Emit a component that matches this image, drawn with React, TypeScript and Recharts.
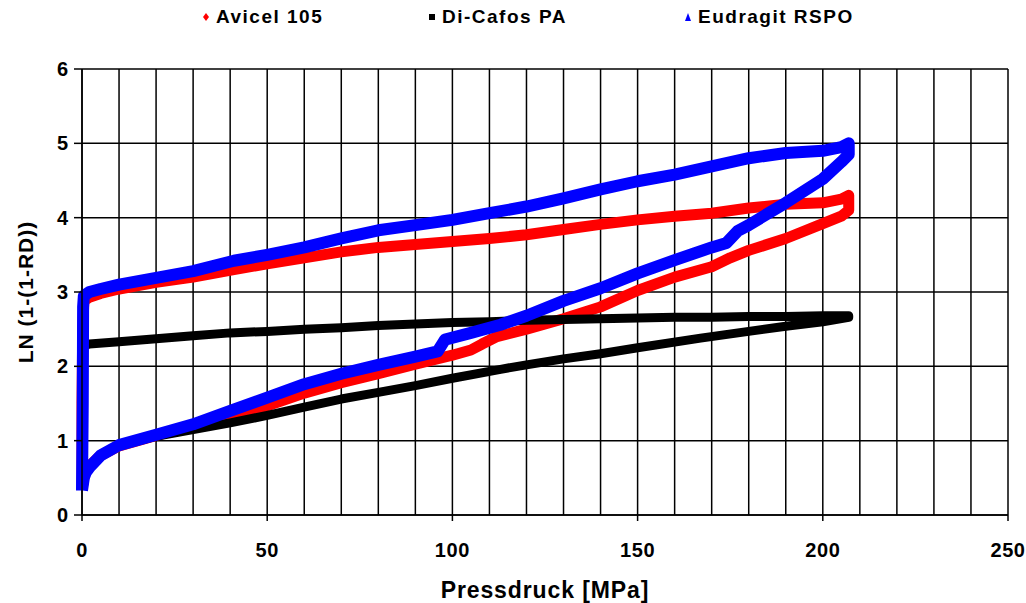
import { LineChart, Line, XAxis, YAxis, CartesianGrid, Label } from "recharts"

// Avicel 105 - compression branch then decompression branch (loop)
const avicelX = [0, 0.5, 1, 2, 5, 10, 20, 30, 40, 50, 60, 70, 80, 90, 100, 105, 108, 112, 120, 130, 140, 150, 160, 170, 175, 180, 190, 200, 205, 207,
  207, 205, 200, 190, 180, 170, 160, 150, 140, 130, 120, 110, 100, 90, 80, 70, 60, 50, 41, 30, 20, 10, 5, 2, 0.5, 0.2, 0, 0]
const avicelY = [0.35, 0.5, 0.58, 0.66, 0.8, 0.93, 1.07, 1.2, 1.33, 1.47, 1.64, 1.78, 1.9, 2.03, 2.15, 2.22, 2.3, 2.4, 2.5, 2.64, 2.8, 3.02, 3.2, 3.34, 3.46, 3.56, 3.72, 3.92, 4.02, 4.1,
  4.3, 4.25, 4.2, 4.18, 4.13, 4.06, 4.02, 3.97, 3.91, 3.84, 3.77, 3.72, 3.68, 3.64, 3.6, 3.54, 3.46, 3.38, 3.3, 3.2, 3.13, 3.04, 2.98, 2.93, 2.88, 2.5, 1.5, 0.35]

// Di-Cafos PA
const dicafosX = [0, 0.5, 1, 2, 5, 10, 20, 30, 40, 50, 60, 70, 80, 90, 100, 113, 120, 130, 140, 150, 167, 180, 190, 200, 207,
  207, 200, 190, 180, 170, 160, 150, 140, 130, 120, 110, 100, 90, 80, 70, 60, 50, 40, 30, 20, 10, 2, 0.5, 0.2, 0]
const dicafosY = [0.38, 0.5, 0.57, 0.64, 0.8, 0.93, 1.06, 1.15, 1.24, 1.34, 1.45, 1.56, 1.65, 1.74, 1.84, 1.96, 2.02, 2.1, 2.17, 2.25, 2.38, 2.47, 2.54, 2.6, 2.66,
  2.68, 2.68, 2.67, 2.67, 2.66, 2.66, 2.65, 2.64, 2.63, 2.62, 2.6, 2.59, 2.57, 2.55, 2.52, 2.5, 2.47, 2.45, 2.41, 2.37, 2.33, 2.3, 2.28, 1.5, 0.38]

// Eudragit RSPO
const eudragitX = [0, 0.5, 1, 2, 5, 10, 20, 30, 40, 50, 60, 70, 80, 90, 96, 98, 105, 113, 120, 130, 140, 150, 160, 170, 174, 177, 180, 190, 200, 205, 207,
  207, 205, 200, 190, 180, 170, 160, 150, 140, 130, 120, 110, 100, 90, 80, 70, 60, 50, 41, 30, 20, 10, 5, 2, 0.5, 0.3, 0.2, 0]
const eudragitY = [0.33, 0.5, 0.57, 0.64, 0.8, 0.94, 1.08, 1.22, 1.4, 1.58, 1.76, 1.9, 2.02, 2.13, 2.2, 2.36, 2.45, 2.56, 2.68, 2.88, 3.05, 3.25, 3.43, 3.6, 3.66, 3.82, 3.9, 4.2, 4.52, 4.75, 4.85,
  5.0, 4.95, 4.9, 4.87, 4.8, 4.69, 4.58, 4.49, 4.38, 4.26, 4.15, 4.06, 3.97, 3.9, 3.83, 3.72, 3.6, 3.5, 3.42, 3.28, 3.19, 3.1, 3.04, 3.0, 2.95, 2.8, 1.5, 0.33]

const xTicks = [0, 10, 20, 30, 40, 50, 60, 70, 80, 90, 100, 110, 120, 130, 140, 150, 160, 170, 180, 190, 200, 210, 220, 230, 240, 250]
const yTicks = [0, 1, 2, 3, 4, 5, 6]

const seriesNames = ["Avicel 105", "Di-Cafos PA", "Eudragit RSPO"]
const seriesColors = ["#ff0000", "#000000", "#0000ff"]

const toPoints = (xs: number[], ys: number[]) => xs.map((x, i) => ({ x, y: ys[i] }))

const avicel = toPoints(avicelX, avicelY)
const dicafos = toPoints(dicafosX, dicafosY)
const eudragit = toPoints(eudragitX, eudragitY)

const font = "'Liberation Sans', Arial, sans-serif"

const XTick = (props: any) => {
  const { x, y, payload } = props
  if (payload.value % 50 !== 0) return null
  return (
    <g>
      <line x1={x} y1={515} x2={x} y2={521} stroke="#000" strokeWidth={1.5} />
      <text x={x} y={y + 34} textAnchor="middle" fontFamily={font} fontWeight="bold" fontSize={20} letterSpacing={0.6} fill="#000">
        {payload.value}
      </text>
    </g>
  )
}

const YTick = (props: any) => {
  const { x, y, payload } = props
  return (
    <g>
      <line x1={x} y1={y} x2={x + 8} y2={y} stroke="#000" strokeWidth={1.5} />
      <text x={x - 6} y={y + 7} textAnchor="end" fontFamily={font} fontWeight="bold" fontSize={20} fill="#000">
        {payload.value}
      </text>
    </g>
  )
}

const ChartLegend = () => {
  const lefts = [200, 426, 682]
  return (
    <div style={{ position: "absolute", left: 0, top: 6, width: 1026, height: 26, fontFamily: font, fontWeight: "bold", fontSize: 19, letterSpacing: 1.5 }}>
      {seriesNames.map((name, i) => (
        <div key={name} style={{ position: "absolute", left: lefts[i], top: 0, display: "flex", alignItems: "center" }}>
          <svg width={12} height={12} style={{ marginRight: 4 }}>
            {i === 0 && <polygon points="6,2 9,6 6,10 3,6" fill={seriesColors[i]} />}
            {i === 1 && <rect x={3} y={3} width={6} height={6} fill={seriesColors[i]} />}
            {i === 2 && <polygon points="6,2 9,10 3,10" fill={seriesColors[i]} />}
          </svg>
          <span>{name}</span>
        </div>
      ))}
    </div>
  )
}

export default function App() {
  return (
    <div style={{ position: "absolute", left: 0, top: 0, width: 1026, height: 603, background: "#fff" }}>
      <LineChart width={1026} height={603} margin={{ top: 69, right: 18, bottom: 0, left: 0 }}>
        <CartesianGrid stroke="#000" strokeWidth={1.5} horizontalValues={yTicks} verticalValues={xTicks} />
        <XAxis
          type="number"
          dataKey="x"
          domain={[0, 250]}
          ticks={xTicks}
          interval={0}
          height={88}
          tick={<XTick />}
          tickLine={false}
          axisLine={{ stroke: "#000", strokeWidth: 1.5 }}
          allowDuplicatedCategory={false}
        >
          <Label
            value="Pressdruck [MPa]"
            position="insideBottom"
            offset={5}
            style={{ fontFamily: font, fontWeight: "bold", fontSize: 23, letterSpacing: 0.9, fill: "#000" }}
          />
        </XAxis>
        <YAxis
          type="number"
          dataKey="y"
          domain={[0, 6]}
          ticks={yTicks}
          interval={0}
          width={82}
          tick={<YTick />}
          tickLine={false}
          axisLine={{ stroke: "#000", strokeWidth: 1.5 }}
        >
          <Label
            value="LN (1-(1-RD))"
            angle={-90}
            position="insideLeft"
            offset={26}
            style={{ fontFamily: font, fontWeight: "bold", fontSize: 21, letterSpacing: 1, fill: "#000", textAnchor: "middle" }}
          />
        </YAxis>
        <Line data={avicel} dataKey="y" name={seriesNames[0]} stroke={seriesColors[0]} strokeWidth={11} dot={false} strokeLinejoin="round" isAnimationActive={false} />
        <Line data={dicafos} dataKey="y" name={seriesNames[1]} stroke={seriesColors[1]} strokeWidth={9} dot={false} strokeLinejoin="round" isAnimationActive={false} />
        <Line data={eudragit} dataKey="y" name={seriesNames[2]} stroke={seriesColors[2]} strokeWidth={12} dot={false} strokeLinejoin="round" isAnimationActive={false} />
      </LineChart>
      <ChartLegend />
    </div>
  )
}
